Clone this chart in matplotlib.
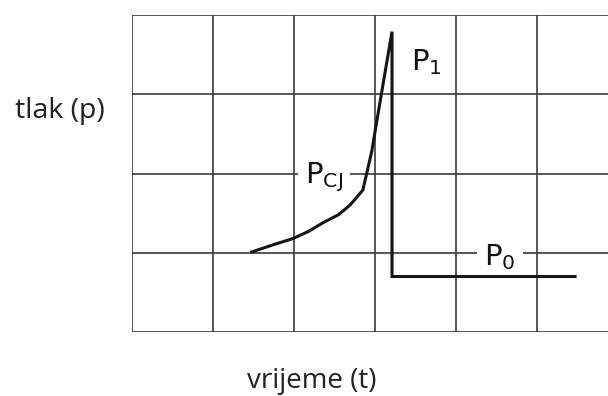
import numpy as np
import matplotlib.pyplot as plt

# pressure trace, in grid cells (x: time, y: pressure)
curve_t = [1.48, 1.74, 1.99, 2.18, 2.36, 2.55, 2.69, 2.85, 2.96, 3.07, 3.21, 3.21, 5.47]
curve_p = [1.01, 1.10, 1.18, 1.27, 1.38, 1.48, 1.60, 1.79, 2.28, 2.95, 3.79, 0.70, 0.70]

label_text = [r'$\mathregular{P_1}$', r'$\mathregular{P_{CJ}}$', r'$\mathregular{P_0}$']
label_t = [3.63, 2.37, 4.54]
label_p = [3.40, 1.95, 0.94]

x_label = "vrijeme (t)"
y_label = "tlak (p)"


def main():
    W, H = 608, 396
    fig = plt.figure(figsize=(W / 100, H / 100), dpi=100)
    cell_w = 81.0
    left, top, bottom = 132, 15, 332
    ax = fig.add_axes([left / W, (H - bottom) / H, (W - left) / W, (bottom - top) / H])
    ax.set_xlim(0, (W - left) / cell_w)
    ax.set_ylim(0, 4)

    # grid
    for gx in range(0, 6):
        ax.axvline(gx, color="#3a3a3a", lw=1.2, zorder=1)
    for gy in range(0, 5):
        ax.axhline(gy, color="#3a3a3a", lw=1.2, zorder=1)
    for s in ax.spines.values():
        s.set_visible(False)
    ax.set_xticks([])
    ax.set_yticks([])

    # trace drawn above the label boxes
    ax.plot(curve_t, curve_p, color="#151515", lw=2.2, zorder=5,
            solid_joinstyle="miter")

    for txt, tx, ty in zip(label_text, label_t, label_p):
        ax.text(tx, ty, txt, fontsize=21, family="DejaVu Sans", color="#111111",
                ha="center", va="center", zorder=4,
                bbox=dict(boxstyle="square,pad=0.25", fc="white", ec="none"))

    fig.text(60 / W, 1 - 111 / H, y_label, fontsize=20.5, family="Open Sans",
             color="#222222", ha="center", va="center")
    fig.text(312 / W, 1 - 381 / H, x_label, fontsize=20, family="Open Sans",
             color="#222222", ha="center", va="center")

    fig.savefig("out.png", dpi=100, facecolor="white")


if __name__ == "__main__":
    main()
